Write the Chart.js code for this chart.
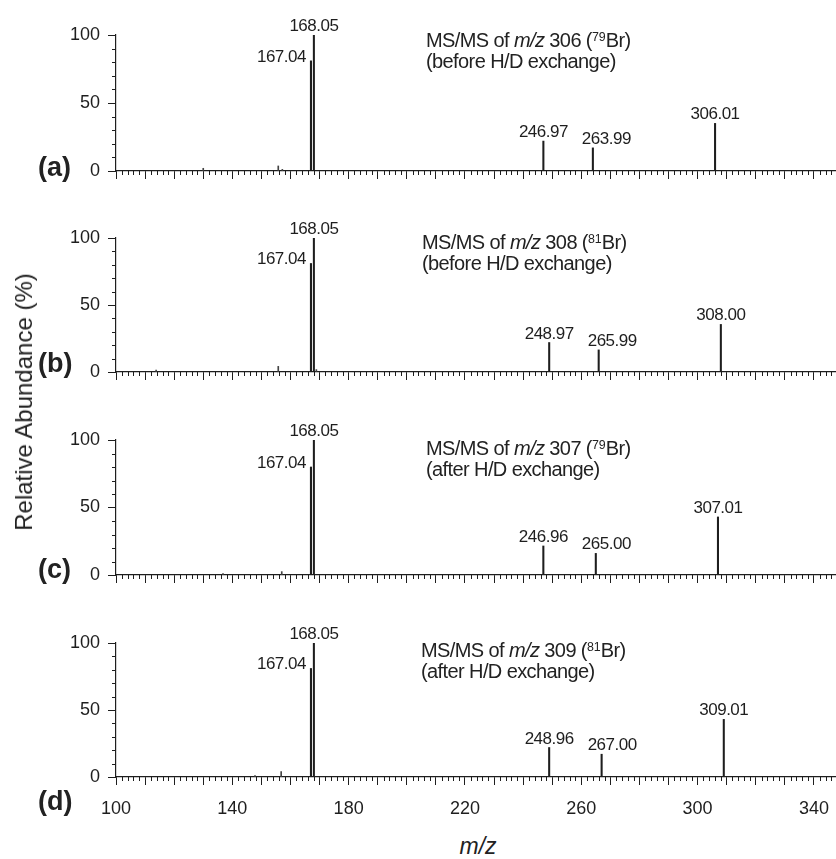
<!DOCTYPE html>
<html>
<head>
<meta charset="utf-8">
<script src="https://cdn.jsdelivr.net/npm/chart.js@4.4.1/dist/chart.umd.min.js"></script>
<style>
html,body{margin:0;padding:0;background:#fff;}
#wrap{position:relative;width:836px;height:859px;overflow:hidden;background:#fff;font-family:"Liberation Sans",Arial,sans-serif;color:#222;}
#wrap canvas{position:absolute;left:0;}
.title{position:absolute;font-size:20px;line-height:21px;letter-spacing:-0.6px;white-space:nowrap;}
.title sup{font-size:0.62em;vertical-align:0.5em;line-height:0;letter-spacing:0;}
.plabel{position:absolute;left:38px;font-weight:bold;font-size:27px;line-height:27px;white-space:nowrap;}
#ytitle{position:absolute;left:24px;top:402px;font-size:24px;white-space:nowrap;transform:translate(-50%,-50%) rotate(-90deg);}
#xtitle{position:absolute;left:478px;top:835px;font-size:23px;line-height:23px;font-style:italic;transform:translateX(-50%);white-space:nowrap;}
</style>
</head>
<body>
<div id="wrap"></div>
<script>
// ---------------- DATA ----------------
const panelLetters = ['(a)', '(b)', '(c)', '(d)'];
const precursorMz = ['306', '308', '307', '309'];
const bromineIsotope = ['79', '81', '79', '81'];
const exchangeState = ['before', 'before', 'after', 'after'];

// labelled peaks (m/z, relative abundance %)
const mzA = [167.04, 168.05, 246.97, 263.99, 306.01];
const intA = [81, 100, 22, 17, 35];
const mzB = [167.04, 168.05, 248.97, 265.99, 308.00];
const intB = [81, 100, 22, 16.5, 35.5];
const mzC = [167.04, 168.05, 246.96, 265.00, 307.01];
const intC = [80, 100, 21.5, 16, 43];
const mzD = [167.04, 168.05, 248.96, 267.00, 309.01];
const intD = [81, 100, 22, 17, 43];

// small unlabelled peaks
const noiseMzA = [130.0, 155.8, 157.2];
const noiseIntA = [2.0, 3.7, 1.2];
const noiseMzB = [113.8, 155.8, 168.9];
const noiseIntB = [1.5, 4.2, 1.8];
const noiseMzC = [136.8, 157.0];
const noiseIntC = [1.0, 2.5];
const noiseMzD = [147.8, 156.8];
const noiseIntD = [1.0, 4.0];

// axis ticks
const xTickLabels = [100, 140, 180, 220, 260, 300, 340];
const xMajorTicks = [100, 110, 120, 130, 140, 150, 160, 170, 180, 190, 200, 210, 220, 230, 240, 250, 260, 270, 280, 290, 300, 310, 320, 330, 340];
const yTickLabels = [0, 50, 100];
const xMin = 100, xMax = 347.6;

// ---------------- LAYOUT ----------------
const FONT = '"Liberation Sans", Arial, sans-serif';
Chart.defaults.font.family = FONT;
Chart.defaults.color = '#222';

const panelData = [
  {mz: mzA, inten: intA, nMz: noiseMzA, nInt: noiseIntA},
  {mz: mzB, inten: intB, nMz: noiseMzB, nInt: noiseIntB},
  {mz: mzC, inten: intC, nMz: noiseMzC, nInt: noiseIntC},
  {mz: mzD, inten: intD, nMz: noiseMzD, nInt: noiseIntD}
];
const layout = [
  {y100: 35,  ph: 136, titleTop: 30,  titleLeft: 426, labelTop: 154},
  {y100: 238, ph: 134, titleTop: 232, titleLeft: 422, labelTop: 350},
  {y100: 440, ph: 135, titleTop: 438, titleLeft: 426, labelTop: 556},
  {y100: 643, ph: 134, titleTop: 640, titleLeft: 421, labelTop: 788}
];
const PAD_TOP = 40;
const AXIS_LEFT = 116;
const INK = '#1e1e1e';
const LABEL_MIN_GAP = 14;

const stickPlugin = {
  id: 'stickExtras',
  afterDraw(chart, args, opts) {
    const {ctx, scales: {x, y}} = chart;
    const p = opts.panel;
    ctx.save();
    // minor ticks
    ctx.strokeStyle = INK;
    ctx.lineWidth = 1;
    const y0 = Math.round(y.getPixelForValue(0));
    ctx.beginPath();
    for (let v = xMin; v <= xMax; v += 2) {
      if (Math.round(v) % 10 === 0) continue;
      const px = Math.round(x.getPixelForValue(v)) + 0.5;
      ctx.moveTo(px, y0);
      ctx.lineTo(px, y0 + 4);
    }
    const x0 = Math.round(x.getPixelForValue(xMin));
    for (let v = 10; v < 100; v += 10) {
      if (v === 50) continue;
      const py = Math.round(y.getPixelForValue(v)) + 0.5;
      ctx.moveTo(x0 - 4, py);
      ctx.lineTo(x0, py);
    }
    ctx.stroke();
    // peak labels
    ctx.font = '17px ' + FONT;
    if ('letterSpacing' in ctx) ctx.letterSpacing = '-0.5px';
    ctx.fillStyle = INK;
    ctx.textBaseline = 'alphabetic';
    let prevRight = -Infinity;
    p.mz.forEach((m, i) => {
      const px = x.getPixelForValue(m);
      const py = y.getPixelForValue(p.inten[i]);
      const txt = m.toFixed(2);
      const w = ctx.measureText(txt).width;
      const next = p.mz[i + 1];
      if (next !== undefined && next - m < 3) {
        ctx.textAlign = 'right';
        ctx.fillText(txt, px - 5, py + 1);
      } else {
        let cx = px;
        if (cx - w / 2 < prevRight + LABEL_MIN_GAP && prevRight > px - 80) {
          cx = prevRight + LABEL_MIN_GAP + w / 2;
        }
        ctx.textAlign = 'center';
        ctx.fillText(txt, cx, py - 4);
        prevRight = cx + w / 2;
      }
    });
    ctx.restore();
  }
};

const wrap = document.getElementById('wrap');

panelData.forEach((p, k) => {
  const L = layout[k];
  const isBottom = k === panelData.length - 1;
  const xh = isBottom ? 45 : 10;
  const cv = document.createElement('canvas');
  const H = PAD_TOP + L.ph + xh;
  cv.width = 836; cv.height = H;
  cv.style.width = '836px'; cv.style.height = H + 'px';
  cv.style.top = (L.y100 - PAD_TOP) + 'px';
  wrap.appendChild(cv);

  new Chart(cv, {
    type: 'bar',
    data: {
      datasets: [
        {data: p.mz.map((m, i) => ({x: m, y: p.inten[i]})), backgroundColor: INK, barThickness: 1.4, borderWidth: 0, grouped: false},
        {data: p.nMz.map((m, i) => ({x: m, y: p.nInt[i]})), backgroundColor: '#444', barThickness: 1, borderWidth: 0, grouped: false}
      ]
    },
    options: {
      responsive: false,
      animation: false,
      events: [],
      layout: {padding: {top: PAD_TOP, left: 0, right: 0, bottom: 0}},
      plugins: {legend: {display: false}, tooltip: {enabled: false}, stickExtras: {panel: p}},
      scales: {
        x: {
          type: 'linear', min: xMin, max: xMax, offset: false,
          grid: {display: true, drawOnChartArea: false, drawTicks: true, tickLength: 8, tickColor: INK, tickWidth: 1, offset: false},
          border: {display: true, color: INK, width: 1.2},
          afterBuildTicks: s => { s.ticks = xMajorTicks.map(v => ({value: v})); },
          ticks: {display: isBottom, autoSkip: false, maxRotation: 0, padding: 13, color: INK, font: {size: 18},
                  callback: v => xTickLabels.includes(v) ? String(v) : ''},
          afterFit: s => { s.height = xh; s.paddingLeft = 0; s.paddingRight = 0; }
        },
        y: {
          min: 0, max: 100,
          grid: {display: true, drawOnChartArea: false, drawTicks: true, tickLength: 8, tickColor: INK, tickWidth: 1},
          border: {display: true, color: INK, width: 1.2},
          afterBuildTicks: s => { s.ticks = yTickLabels.map(v => ({value: v})); },
          ticks: {padding: 8, color: INK, font: {size: 18}},
          afterFit: s => { s.width = AXIS_LEFT; s.paddingTop = 0; s.paddingBottom = 0; }
        }
      }
    },
    plugins: [stickPlugin]
  });

  const t = document.createElement('div');
  t.className = 'title';
  t.style.left = L.titleLeft + 'px';
  t.style.top = L.titleTop + 'px';
  t.innerHTML = 'MS/MS of <i>m/z</i> ' + precursorMz[k] + ' (<sup>' + bromineIsotope[k] + '</sup>Br)<br>(' + exchangeState[k] + ' H/D exchange)';
  wrap.appendChild(t);

  const lb = document.createElement('div');
  lb.className = 'plabel';
  lb.style.top = L.labelTop + 'px';
  lb.textContent = panelLetters[k];
  wrap.appendChild(lb);
});

const yt = document.createElement('div');
yt.id = 'ytitle';
yt.textContent = 'Relative Abundance (%)';
wrap.appendChild(yt);
const xt = document.createElement('div');
xt.id = 'xtitle';
xt.textContent = 'm/z';
wrap.appendChild(xt);
</script>
</body>
</html>
